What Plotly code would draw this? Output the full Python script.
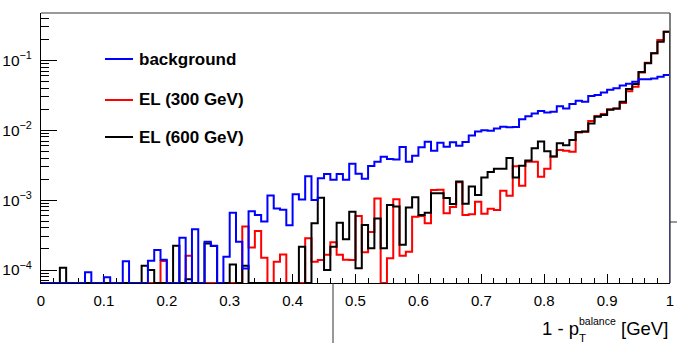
import math
import plotly.graph_objects as go

# ---------------- data ----------------
bin_edges = [i / 100 for i in range(101)]

background = [
    0, 0, 0, 0, 0, 0, 0, 9.3e-5, 0, 0,
    7.9e-5, 0, 0, 1.33e-4, 0, 0, 0, 1.36e-4, 1.93e-4, 1.4e-4,
    0, 0, 2.9e-4, 0, 3.82e-4, 0, 2.54e-4, 2.23e-4, 0, 1.55e-4,
    6.6e-4, 2.54e-4, 1.05e-4, 6.9e-4, 6.1e-4, 4.95e-4, 1.16e-3, 7.6e-4, 7.3e-4, 4.35e-4,
    1.21e-3, 1.02e-3, 2.2e-3, 1.0e-3, 2.05e-3, 2.37e-3, 1.96e-3, 2.37e-3, 1.96e-3, 3.3e-3,
    2.38e-3, 2.02e-3, 3.08e-3, 3.55e-3, 4.18e-3, 3.86e-3, 3.8e-3, 5.75e-3, 3.55e-3, 4.3e-3,
    5.7e-3, 6.86e-3, 5.1e-3, 6.6e-3, 5.8e-3, 6.7e-3, 6.0e-3, 6.8e-3, 8.4e-3, 9.6e-3,
    1.0e-2, 9.85e-3, 1.06e-2, 1.12e-2, 1.1e-2, 1.11e-2, 1.44e-2, 1.58e-2, 1.74e-2, 1.89e-2,
    1.79e-2, 1.84e-2, 2.2e-2, 2.05e-2, 2.37e-2, 2.64e-2, 2.55e-2, 3.08e-2, 3.19e-2, 3.46e-2,
    3.8e-2, 4.0e-2, 4.35e-2, 4.63e-2, 4.94e-2, 5.34e-2, 5.37e-2, 5.5e-2, 5.83e-2, 6.16e-2,
]

el_300 = [
    0, 0, 0, 0, 0, 0, 0, 0, 0, 0,
    0, 0, 0, 0, 0, 0, 0, 0, 0, 1.35e-4,
    0, 0, 0, 1.6e-4, 0, 0, 0, 0, 0, 0,
    0, 0, 4.2e-4, 2.1e-4, 3.6e-4, 1.5e-4, 0, 1.31e-4, 1.67e-4, 0,
    0, 0, 2.84e-4, 1.31e-4, 1.39e-4, 1.65e-4, 2.5e-4, 1.65e-4, 1.4e-4, 1.39e-4,
    5.9e-4, 1.8e-4, 3.5e-4, 1.05e-3, 0, 1.47e-4, 1.03e-3, 1.6e-4, 1.83e-4, 5.8e-4,
    5.9e-4, 4.65e-4, 1.4e-3, 1.41e-3, 6.5e-4, 8.0e-4, 1.8e-3, 6.1e-4, 6.3e-4, 9.5e-4,
    6.4e-4, 7.5e-4, 7.2e-4, 1.36e-3, 1.15e-3, 3.05e-3, 1.6e-3, 3.55e-3, 3.55e-3, 2.16e-3,
    2.8e-3, 4.2e-3, 5.2e-3, 5.1e-3, 4.9e-3, 9.3e-3, 9.5e-3, 1.35e-2, 1.6e-2, 1.7e-2,
    2.0e-2, 2.02e-2, 2.45e-2, 3.6e-2, 4.2e-2, 6.7e-2, 9.2e-2, 0.126, 0.195, 0.257,
]

el_600 = [
    0, 0, 0, 1.08e-4, 0, 0, 0, 0, 0, 0,
    0, 0, 0, 0, 0, 0, 1.15e-4, 1.0e-4, 0, 0,
    0, 2.23e-4, 0, 7.4e-5, 0, 0, 2.4e-4, 2.2e-4, 0, 0,
    1.2e-4, 0, 1.15e-4, 0, 0, 0, 0, 0, 0, 0,
    0, 2.15e-4, 0, 4.65e-4, 1.08e-3, 1.0e-4, 2.15e-4, 4.75e-4, 2.75e-4, 6.8e-4,
    1.06e-4, 4.4e-4, 2.05e-4, 5.45e-4, 2.05e-4, 8.5e-4, 8.1e-4, 2.3e-4, 7.85e-4, 1.1e-3,
    6.1e-4, 6.6e-4, 1.25e-3, 1.25e-3, 1.07e-3, 8.8e-4, 1.85e-3, 8.9e-4, 1.56e-3, 1.18e-3,
    2.1e-3, 2.52e-3, 2.8e-3, 2.8e-3, 4.0e-3, 2.1e-3, 3.1e-3, 3.7e-3, 5.5e-3, 6.9e-3,
    5.0e-3, 4.2e-3, 6.5e-3, 6.1e-3, 7.25e-3, 9.4e-3, 9.6e-3, 1.25e-2, 1.56e-2, 1.65e-2,
    1.97e-2, 2.05e-2, 2.56e-2, 3.9e-2, 4.6e-2, 6.8e-2, 9.1e-2, 0.126, 0.185, 0.257,
]

series_names = ["background", "EL (300 GeV)", "EL (600 GeV)"]
series_colors = ["#0000ff", "#ff0000", "#000000"]

x_tick_vals = [0, 0.1, 0.2, 0.3, 0.4, 0.5, 0.6, 0.7, 0.8, 0.9, 1.0]
x_tick_text = ["0", "0.1", "0.2", "0.3", "0.4", "0.5", "0.6", "0.7", "0.8", "0.9", "1"]
y_tick_vals = [1e-4, 1e-3, 1e-2, 1e-1]
y_tick_text = ["10<sup>\u22124</sup>", "10<sup>\u22123</sup>", "10<sup>\u22122</sup>", "10<sup>\u22121</sup>"]

# ---------------- figure ----------------
Y_LOG_MIN, Y_LOG_MAX = -4.186, -0.323
floor = 10 ** Y_LOG_MIN

def step_xy(vals):
    xs = list(bin_edges) + [bin_edges[-1]]
    ys = [v if v > 0 else floor for v in vals]
    ys = ys + [ys[-1], floor]
    return xs, ys

fig = go.Figure()
# draw order: red, black, blue on top
for vals, name, col in [(el_300, series_names[1], series_colors[1]),
                        (el_600, series_names[2], series_colors[2]),
                        (background, series_names[0], series_colors[0])]:
    xs, ys = step_xy(vals)
    fig.add_trace(go.Scatter(x=xs, y=ys, mode="lines", name=name,
                             line=dict(color=col, width=2, shape="hv"),
                             hoverinfo="skip"))

FONT = "Liberation Sans, Arial, Helvetica, sans-serif"

minor_x = [round(i * 0.02, 2) for i in range(51) if (i % 5) != 0]
minor_y = [k * 10 ** e for e in range(-5, 0) for k in range(2, 10)
           if Y_LOG_MIN < math.log10(k * 10 ** e) < Y_LOG_MAX]

fig.update_layout(
    width=677, height=343,
    margin=dict(l=41, r=7, t=13, b=60, pad=0, autoexpand=False),
    plot_bgcolor="white", paper_bgcolor="white",
    showlegend=False,
    font=dict(family=FONT, color="black"),
    xaxis=dict(
        range=[0, 1], tickmode="array", tickvals=x_tick_vals, ticktext=x_tick_text,
        ticks="inside", ticklen=9, tickwidth=1, tickcolor="black",
        showline=True, linecolor="black", linewidth=1, mirror=False,
        showgrid=False, zeroline=False, layer="below traces", automargin=False,
        tickfont=dict(size=15, family=FONT, color="black"),
        ticklabelstandoff=4,
        minor=dict(tickmode="array", tickvals=minor_x, ticks="inside", ticklen=5,
                   tickwidth=1, tickcolor="black", showgrid=False),
    ),
    yaxis=dict(
        type="log", range=[Y_LOG_MIN, Y_LOG_MAX],
        tickmode="array", tickvals=y_tick_vals, ticktext=y_tick_text,
        ticks="inside", ticklen=16, tickwidth=1, tickcolor="black",
        showline=True, linecolor="black", linewidth=1, mirror=False,
        showgrid=False, zeroline=False, layer="below traces", automargin=False,
        tickfont=dict(size=15.5, family=FONT, color="black"),
        ticklabelstandoff=5,
        minor=dict(tickmode="array", tickvals=minor_y, ticks="inside", ticklen=8,
                   tickwidth=1, tickcolor="black", showgrid=False),
    ),
)

W, H = 629.0, 270.0
def px(xp):
    return (xp - 41) / W
def py(yp):
    return (283 - yp) / H

shapes = [
    # top frame (grey) and right frame
    dict(type="line", xref="paper", yref="paper", x0=0, x1=1, y0=1, y1=1,
         line=dict(color="#9a9a9a", width=2)),
    dict(type="line", xref="paper", yref="paper", x0=1, x1=1, y0=0, y1=1,
         line=dict(color="#555555", width=1.5)),
    # stray lines of a neighbouring pad
    dict(type="line", xref="paper", yref="paper", x0=px(333), x1=px(333), y0=0, y1=py(343),
         line=dict(color="#333333", width=1)),
    dict(type="line", xref="paper", yref="paper", x0=1, x1=px(677), y0=py(222), y1=py(222),
         line=dict(color="#333333", width=1)),
]

annotations = []
legend_rows = [(series_names[0], series_colors[0], 59),
               (series_names[1], series_colors[1], 100),
               (series_names[2], series_colors[2], 137)]
for name, col, yrow in legend_rows:
    shapes.append(dict(type="line", xref="paper", yref="paper",
                       x0=px(105), x1=px(133), y0=py(yrow), y1=py(yrow),
                       line=dict(color=col, width=2)))
    annotations.append(dict(text=name, xref="paper", yref="paper",
                            x=px(137), y=py(yrow), xanchor="left", yanchor="middle",
                            showarrow=False,
                            font=dict(family=FONT, size=17, color="black", weight="bold")))

# x-axis title: 1 - p_T^balance [GeV]
annotations += [
    dict(text="1 - p", xref="paper", yref="paper", x=px(540), y=py(328),
         xanchor="left", yanchor="middle", showarrow=False,
         font=dict(family=FONT, size=18.5, color="black")),
    dict(text="balance", xref="paper", yref="paper", x=px(576.5), y=py(321),
         xanchor="left", yanchor="middle", showarrow=False,
         font=dict(family=FONT, size=10.5, color="black")),
    dict(text="T", xref="paper", yref="paper", x=px(576.5), y=py(338),
         xanchor="left", yanchor="middle", showarrow=False,
         font=dict(family=FONT, size=11.5, color="black")),
    dict(text="[GeV]", xref="paper", yref="paper", x=1.0, y=py(328),
         xanchor="right", yanchor="middle", showarrow=False,
         font=dict(family=FONT, size=18.5, color="black")),
]

fig.update_layout(shapes=shapes, annotations=annotations)
fig.write_html("out.html")
